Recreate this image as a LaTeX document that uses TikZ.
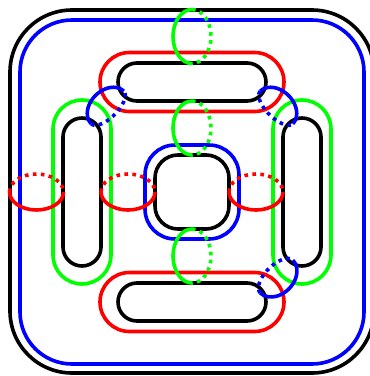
\documentclass[tikz,border=0pt]{standalone}
\begin{document}
\begin{tikzpicture}[x=1pt,y=-1pt,
  ln/.style={line width=3.6pt},
  dots/.style={line width=3.6pt,dash pattern=on 3.6pt off 4.4pt},
  bk/.style={ln,black},
  bl/.style={ln,blue},
  rd/.style={ln,red},
  gr/.style={ln,green}]
\useasboundingbox (0,0) rectangle (370,376);
% outer frames
\draw[bk,rounded corners=62] (10,10) rectangle (374,373);
\draw[bl,rounded corners=52] (20,20) rectangle (364,364);
% center square
\draw[bk,rounded corners=23] (155,155) rectangle (229,229);
\draw[bl,rounded corners=30] (145,145) rectangle (239,239);
% horizontal pills
\draw[bk,rounded corners=19] (118,63) rectangle (266,101);
\draw[rd,rounded corners=29.5] (100,52.5) rectangle (284,111.5);
\draw[bk,rounded corners=19] (118,283) rectangle (266,321);
\draw[rd,rounded corners=29.5] (100,272.5) rectangle (284,331.5);
% vertical pills
\draw[bk,rounded corners=19] (63,118) rectangle (101,266);
\draw[gr,rounded corners=29] (53,100) rectangle (111,284);
\draw[bk,rounded corners=19] (283,118) rectangle (321,266);
\draw[gr,rounded corners=29] (273,100) rectangle (331,284);
% red meridians
\foreach \cx in {36.5,128,256}{
  \begin{scope}[shift={(\cx,192)}]
    \draw[rd] (27,0) arc[start angle=0,end angle=180,x radius=27,y radius=18];
    \draw[dots,red] (-27,0) arc[start angle=180,end angle=360,x radius=27,y radius=18];
  \end{scope}}
% green meridians
\foreach \cy in {36.5,128,256}{
  \begin{scope}[shift={(192,\cy)}]
    \draw[gr] (0,27) arc[start angle=90,end angle=270,x radius=19,y radius=27];
    \draw[dots,green] (0,-27) arc[start angle=-90,end angle=90,x radius=19,y radius=27];
  \end{scope}}
% blue meridians
\begin{scope}[shift={(107.5,107.5)},x={(0.7071pt,0.7071pt)},y={(-0.7071pt,0.7071pt)}]
  \draw[bl] plot[domain=0:180,samples=40,smooth] ({23*cos(\x)},{17*sin(\x)});
  \draw[dots,blue] plot[domain=180:360,samples=40,smooth] ({23*cos(\x)},{10*sin(\x)});
\end{scope}
\begin{scope}[shift={(276.5,107.5)},x={(0.7071pt,-0.7071pt)},y={(0.7071pt,0.7071pt)}]
  \draw[bl] plot[domain=0:180,samples=40,smooth] ({23*cos(\x)},{17*sin(\x)});
  \draw[dots,blue] plot[domain=180:360,samples=40,smooth] ({23*cos(\x)},{10*sin(\x)});
\end{scope}
\begin{scope}[shift={(276.5,276.5)},x={(0.7071pt,0.7071pt)},y={(0.7071pt,-0.7071pt)}]
  \draw[bl] plot[domain=0:180,samples=40,smooth] ({23*cos(\x)},{17.5*sin(\x)});
  \draw[dots,blue] plot[domain=180:360,samples=40,smooth] ({23*cos(\x)},{11*sin(\x)});
\end{scope}
\end{tikzpicture}
\end{document}
